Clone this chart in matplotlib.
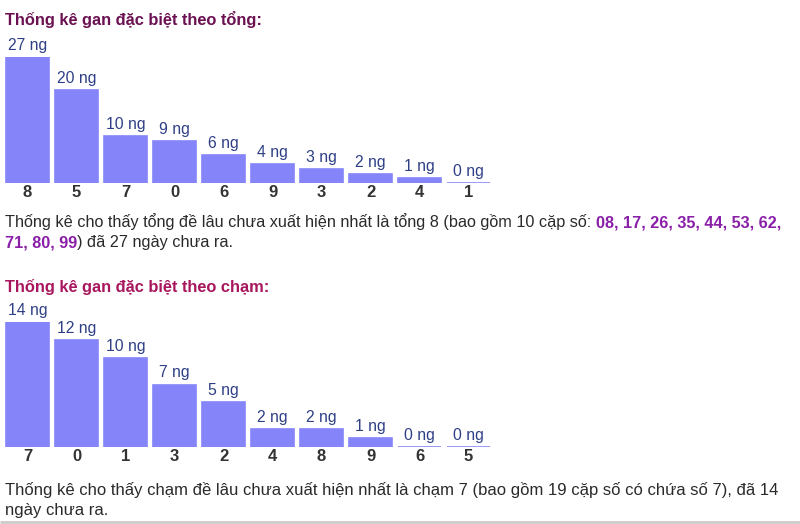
import matplotlib
matplotlib.use("Agg")
import matplotlib.pyplot as plt

# data
tong_labels = ['8', '5', '7', '0', '6', '9', '3', '2', '4', '1']
tong_days = [27, 20, 10, 9, 6, 4, 3, 2, 1, 0]
cham_labels = ['7', '0', '1', '3', '2', '4', '8', '9', '6', '5']
cham_days = [14, 12, 10, 7, 5, 2, 2, 1, 0, 0]
tong_pairs = ['08', '17', '26', '35', '44', '53', '62', '71', '80', '99']

title1 = "Thống kê gan đặc biệt theo tổng:"
title2 = "Thống kê gan đặc biệt theo chạm:"

W, H = 800, 524
BAR = '#8585f9'
VAL = '#2e3f86'
TICK = '#333333'
SANS = ['Liberation Sans', 'DejaVu Sans']

fig = plt.figure(figsize=(W / 100, H / 100), dpi=100)
fig.patch.set_facecolor('white')

# full-figure axes in pixel coords for the free text
bg = fig.add_axes([0, 0, 1, 1])
bg.set_xlim(0, W)
bg.set_ylim(H, 0)
bg.axis('off')


def px_axes(left, right, base, top):
    # axes given in pixel coordinates (y from top)
    return fig.add_axes([left / W, 1 - base / H, (right - left) / W, (base - top) / H])


def bar_chart(ax, labels, days):
    x = range(len(days))
    ax.bar(x, days, width=0.86, color=BAR, edgecolor=BAR, linewidth=1.2)
    ax.set_xlim(-0.5, len(days) - 0.5)
    ax.set_ylim(0, max(days))
    for i, d in enumerate(days):
        ax.annotate(f"{d} ng", (i, d), xytext=(0, 3), textcoords='offset points',
                    ha='center', va='bottom', fontsize=11.3, color=VAL,
                    family=SANS, annotation_clip=False)
    ax.set_xticks(list(x))
    ax.set_xticklabels(labels, fontsize=12, fontweight='bold', color=TICK, family=SANS)
    ax.tick_params(axis='x', length=0, pad=1.5)
    ax.set_yticks([])
    for s in ax.spines.values():
        s.set_visible(False)
    ax.patch.set_alpha(0)


ax1 = px_axes(3, 493, 183, 57)
bar_chart(ax1, tong_labels, tong_days)
ax2 = px_axes(3, 493, 447, 322)
bar_chart(ax2, cham_labels, cham_days)

bg.text(5, 19, title1, fontsize=11.8, fontweight='bold', color='#6b1152',
        family=SANS, va='center')
bg.text(5, 287, title2, fontsize=11.8, fontweight='bold', color='#a8175e',
        family=SANS, va='center')


def line_of(y, parts, size=11.7):
    # parts: list of (text, bold, color); chained left to right
    prev = None
    for txt, bold, col in parts:
        kw = dict(fontsize=size, color=col, family=SANS,
                  fontweight='bold' if bold else 'normal', ha='left')
        if prev is None:
            prev = bg.text(5, y, txt, va='baseline', **kw)
        else:
            prev = bg.annotate(txt, xy=(1, 0), xycoords=prev, va='bottom', **kw)


PURPLE = '#8a1fa8'
BLACK = '#2a2a2a'
first = ", ".join(tong_pairs[:7]) + ","
second = ", ".join(tong_pairs[7:])
line_of(227, [("Thống kê cho thấy tổng đề lâu chưa xuất hiện nhất là tổng 8 (bao gồm 10 cặp số: ", False, BLACK),
              (first, True, PURPLE)])
line_of(247, [(second, True, PURPLE), (") đã 27 ngày chưa ra.", False, BLACK)])
line_of(495, [("Thống kê cho thấy chạm đề lâu chưa xuất hiện nhất là chạm 7 (bao gồm 19 cặp số có chứa số 7), đã 14", False, BLACK)],
        size=12)
line_of(515, [("ngày chưa ra.", False, BLACK)], size=12)

bg.plot([0, W], [521.5, 521.5], color='#cccccc', lw=2, solid_capstyle='butt')

fig.savefig("out.png", dpi=100, facecolor='white')
